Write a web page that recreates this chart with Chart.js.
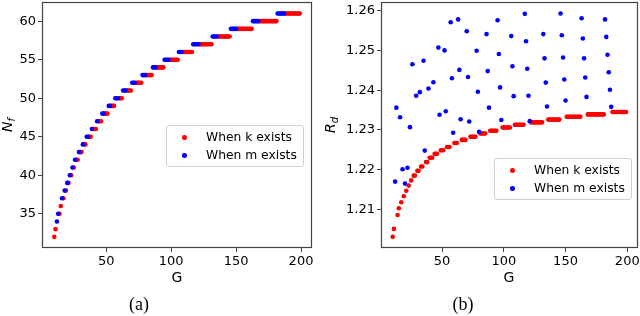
<!DOCTYPE html>
<html>
<head>
<meta charset="utf-8">
<script src="https://cdn.jsdelivr.net/npm/chart.js@4/dist/chart.umd.min.js"></script>
<style>
  html, body { margin: 0; padding: 0; background: #fff; }
  #wrap { position: relative; width: 640px; height: 316px; overflow: hidden; font-family: "DejaVu Sans", sans-serif; color: #000; }
  canvas { position: absolute; top: 0; }
  .lbl { position: absolute; white-space: nowrap; transform: translate(-50%, -50%); line-height: 1; }
  .ylab { transform: translate(-50%, -50%) rotate(-90deg); font-size: 14px; }
  .ylab sub { font-size: 10px; vertical-align: -3px; }
  .cap { font-family: "Liberation Serif", "DejaVu Serif", serif; font-size: 18px; }
  .legend { position: absolute; width: 136px; height: 40px; border: 1px solid #d0d0d0; border-radius: 3px;
            background: rgba(255,255,255,0.85); font-size: 12.3px; }
  .legend .row { position: absolute; left: 0; height: 14px; line-height: 14px; }
  .legend .dot { position: absolute; left: 15px; top: 5px; width: 4.6px; height: 4.6px; border-radius: 50%; }
  .legend .txt { position: absolute; left: 39px; top: 0; white-space: nowrap; }
</style>
</head>
<body>
<div id="wrap">
  <canvas id="chartA" width="320" height="316" style="left:0"></canvas>
  <canvas id="chartB" width="320" height="316" style="left:320px"></canvas>

  <div class="lbl ylab" style="left:8px; top:125px"><i>N</i><sub><i>f</i></sub></div>
  <div class="lbl" style="left:177px; top:277px; font-size:14px">G</div>
  <div class="lbl cap" style="left:139px; top:304px">(a)</div>

  <div class="lbl ylab" style="left:331px; top:125px"><i>R</i><sub><i>d</i></sub></div>
  <div class="lbl" style="left:509px; top:277px; font-size:14px">G</div>
  <div class="lbl cap" style="left:463px; top:304px">(b)</div>

  <div id="legA" class="legend" style="left:166px; top:125px"></div>
  <div id="legB" class="legend" style="left:494px; top:158px"></div>
</div>
<script>
// G runs from 10 to 199, one point per integer G
const gFirst = 10, gLast = 199;

// N_f level and the first G on that level
const nfLevels    = [32, 33, 34, 35, 36, 37, 38, 39, 40, 41, 42, 43, 44, 45, 46,
                     47, 48, 49, 50, 51, 52, 53, 54, 55, 56, 57, 58, 59, 60, 61];
const levelStartG = [10, 11, 12, 13, 15, 16, 18, 20, 22, 24, 26, 29, 32, 35, 39,
                     43, 47, 52, 57, 63, 70, 78, 86, 95, 106, 117, 132, 146, 163, 182];
// R_d of the red ("k exists") points on each level
const levelRedRd  = [1.2031, 1.2051, null, 1.2086, 1.2103, 1.2118, 1.2133, 1.2147, 1.2160, 1.2173,
                     1.2185, 1.2197, 1.2208, 1.2219, 1.2230, 1.2240, 1.2249, 1.2257, 1.2267, 1.2275,
                     1.2283, 1.2291, 1.2298, 1.2306, 1.2313, 1.2319, 1.2326, 1.2333, 1.2339, 1.2345];

// G values where m exists (blue) and their R_d
const blueG  = [12, 13, 16, 18, 20, 22, 24, 26, 29, 32, 35, 36, 39, 43, 47, 48, 52, 53,
                57, 58, 59, 63, 64, 65, 70, 71, 72, 78, 79, 80, 86, 87, 88, 95, 96, 97, 98,
                106, 107, 108, 117, 118, 119, 120, 121, 132, 133, 134, 135,
                146, 147, 148, 149, 150, 163, 164, 165, 166, 167, 182, 183, 184, 185, 186, 187];
const blueRd = [1.2170, 1.2356, 1.2332, 1.2201, 1.2165, 1.2205, 1.2307, 1.2465, 1.2386, 1.2395,
                1.2474, 1.2248, 1.2404, 1.2420, 1.2507, 1.2338, 1.2500, 1.2347,
                1.2571, 1.2430, 1.2293, 1.2578, 1.2451, 1.2327, 1.2548, 1.2433, 1.2321,
                1.2499, 1.2396, 1.2295, 1.2541, 1.2448, 1.2356, 1.2576, 1.2491, 1.2407, 1.2325,
                1.2536, 1.2460, 1.2385, 1.2592, 1.2523, 1.2454, 1.2386, 1.2322,
                1.2541, 1.2480, 1.2419, 1.2359, 1.2593, 1.2538, 1.2482, 1.2427, 1.2374,
                1.2581, 1.2530, 1.2480, 1.2432, 1.2383, 1.2578, 1.2534, 1.2489, 1.2445, 1.2401, 1.2358];

const seriesNames = ['When k exists', 'When m exists'];
const seriesColors = ['rgb(255,0,0)', 'rgb(0,0,255)'];

const gTicks  = [50, 100, 150, 200];
const nfTicks = [35, 40, 45, 50, 55, 60];
const rdTicks = [1.21, 1.22, 1.23, 1.24, 1.25, 1.26];

function levelOf(g) {
  let i = 0;
  while (i + 1 < levelStartG.length && levelStartG[i + 1] <= g) i++;
  return i;
}

const nfRed = [], nfBlue = [], rdRed = [], rdBlue = [];
for (let g = gFirst; g <= gLast; g++) {
  const i = levelOf(g);
  const b = blueG.indexOf(g);
  if (b >= 0) {
    nfBlue.push({ x: g, y: nfLevels[i] });
    rdBlue.push({ x: g, y: blueRd[b] });
  } else {
    nfRed.push({ x: g, y: nfLevels[i] });
    rdRed.push({ x: g, y: levelRedRd[i] });
  }
}

// frame around plot area (all four spines)
const frame = {
  id: 'frame',
  afterDraw(chart) {
    const a = chart.chartArea, c = chart.ctx;
    c.save();
    c.strokeStyle = '#444';
    c.lineWidth = 1.2;
    c.strokeRect(Math.round(a.left) + 0.5, Math.round(a.top) + 0.5,
                 Math.round(a.right - a.left) - 1, Math.round(a.bottom - a.top) - 1);
    c.restore();
  }
};

function dots(data, k) {
  return {
    label: seriesNames[k], data: data,
    backgroundColor: seriesColors[k], borderWidth: 0,
    pointRadius: 2.3, pointHoverRadius: 2.3, order: 2 - k
  };
}

function axis(min, max, ticks, size, fmt) {
  return {
    type: 'linear', min: min, max: max,
    border: { display: false },
    grid: { drawOnChartArea: false, drawTicks: true, tickLength: 4, color: '#444' },
    ticks: { font: { family: 'DejaVu Sans', size: 13 }, color: '#000', padding: 2,
             maxRotation: 0, autoSkip: false, callback: fmt },
    afterBuildTicks: s => { s.ticks = ticks.map(v => ({ value: v })); },
    afterFit: s => {
      if (s.isHorizontal()) s.height = size; else s.width = size;
      s.paddingLeft = s.paddingRight = s.paddingTop = s.paddingBottom = 0;
    }
  };
}

function makeChart(id, red, blue, yAxis, yWidth, padRight) {
  return new Chart(document.getElementById(id), {
    type: 'scatter',
    data: { datasets: [dots(red, 0), dots(blue, 1)] },
    options: {
      responsive: false, animation: false, events: [],
      layout: { padding: { top: 1, right: padRight, left: 0, bottom: 0 } },
      plugins: { legend: { display: false }, tooltip: { enabled: false } },
      scales: {
        x: Object.assign(axis(0.55, 208.45, gTicks, 68, v => String(v)), { position: 'bottom' }),
        y: Object.assign(yAxis, { position: 'left' })
      }
    },
    plugins: [frame]
  });
}

makeChart('chartA', nfRed, nfBlue, axis(30.55, 62.45, nfTicks, 42, v => String(v)), 42, 8);
makeChart('chartB', rdRed, rdBlue, axis(1.2003, 1.2621, rdTicks, 61, v => v.toFixed(2)), 61, 2.3);

function legend(id) {
  const box = document.getElementById(id);
  seriesNames.forEach((name, k) => {
    const row = document.createElement('div');
    row.className = 'row';
    row.style.top = (4 + k * 18) + 'px';
    row.style.width = '100%';
    row.innerHTML = '<span class="dot" style="background:' + seriesColors[k] + '"></span>' +
                    '<span class="txt">' + name + '</span>';
    box.appendChild(row);
  });
}
legend('legA');
legend('legB');
</script>
</body>
</html>
